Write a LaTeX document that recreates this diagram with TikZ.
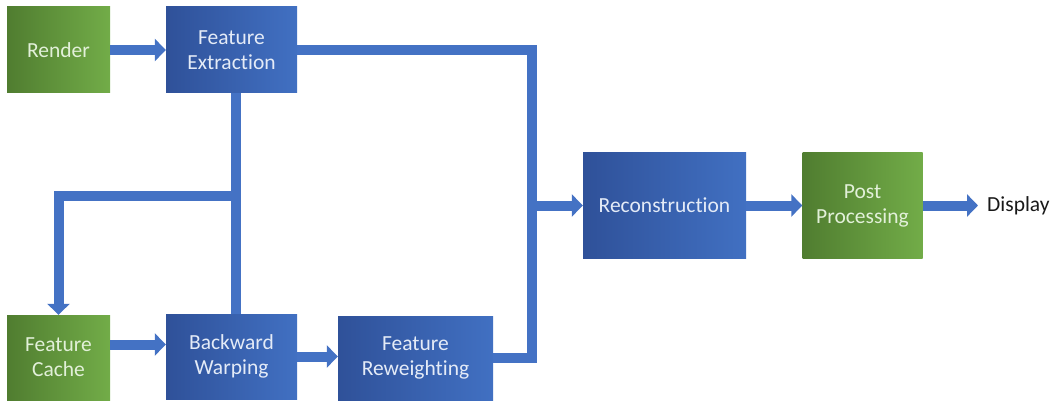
\documentclass[tikz,border=0pt]{standalone}
\usepackage{fontspec}
\setmainfont{Carlito}[Ligatures=NoCommon]
\usetikzlibrary{arrows.meta}
\definecolor{boxblueA}{HTML}{2F5199}
\definecolor{boxblueB}{HTML}{4170C2}
\definecolor{boxgreenA}{HTML}{507D30}
\definecolor{boxgreenB}{HTML}{72AC48}
\definecolor{flowblue}{HTML}{4472C4}
\definecolor{greentext}{HTML}{E2F0D9}
\definecolor{bluetext}{HTML}{E4EBF7}
\begin{document}
\begin{tikzpicture}[x=1pt,y=-1pt,align=center,font=\fontsize{21.5}{25}\selectfont]
\tikzstyle{stage}=[inner sep=0pt, minimum height=86pt]
\tikzstyle{bluestage}=[stage, left color=boxblueA, right color=boxblueB, text=bluetext]
\tikzstyle{greenstage}=[stage, left color=boxgreenA, right color=boxgreenB, text=greentext]
\tikzstyle{flow}=[draw=flowblue, line width=10pt, line join=miter]
\tikzstyle{flowarrow}=[flow, -{Triangle[width=22pt,length=11pt]}]
\useasboundingbox (0,0) rectangle (1063,401);
% top row
\node[greenstage, minimum width=103pt] (render) at (58.5,50) {Render};
\node[bluestage, minimum width=131pt] (extract) at (231.5,50) {Feature\\Extraction};
% bottom row
\node[greenstage, minimum width=103pt, minimum height=85pt] (cache) at (58.5,357.5) {Feature\\Cache};
\node[bluestage, minimum width=131pt, minimum height=85pt] (warp) at (231.5,356.5) {Backward\\Warping};
\node[bluestage, minimum width=155pt, minimum height=84pt] (reweight) at (415.5,358) {Feature\\Reweighting};
% right part
\node[bluestage, minimum width=163pt, minimum height=105pt] (recon) at (664.5,205.5) {Reconstruction};
\node[greenstage, minimum width=120pt, minimum height=105pt] (post) at (862.5,205.5) {Post\\Processing};
\node[inner sep=0pt, anchor=west, text=black!90] (display) at (987,205.5) {Display};
\coordinate (merge) at (532,205.5);
\coordinate (split) at (236,196);
% connectors
\draw[flowarrow] (render.east) -- (extract.west);
\draw[flowarrow] (extract.east) -- (extract.east -| merge) -- (merge) -- (recon.west);
\draw[flow] (reweight.east) -- (reweight.east -| merge) -- (merge);
\draw[flow] ([xshift=4.5pt]extract.south) -- ([xshift=4.5pt]warp.north);
\draw[flowarrow] (split) -- (split -| cache.north) -- (cache.north);
\draw[flowarrow] ([yshift=13pt]cache.east) -- ([yshift=13pt]cache.east -| warp.west);
\draw[flowarrow] (warp.east) -- (warp.east -| reweight.west);
\draw[flowarrow] (recon.east) -- (post.west);
\draw[flowarrow] (post.east) -- ([xshift=-9pt]display.west);
\end{tikzpicture}
\end{document}
